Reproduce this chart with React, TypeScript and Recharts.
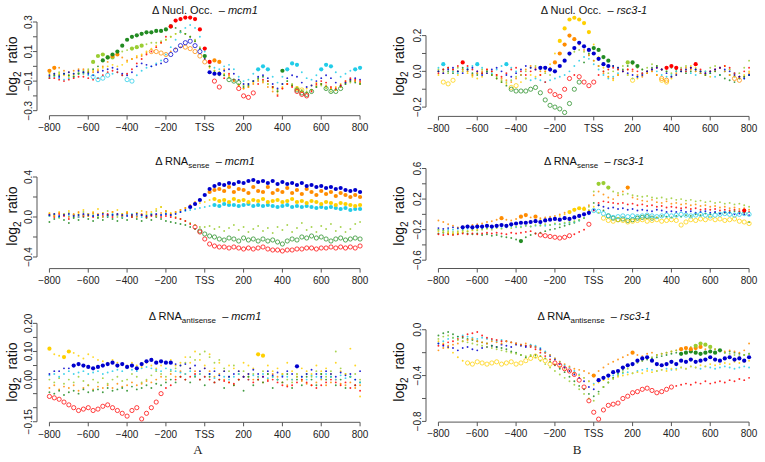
import React from 'react';
import { ScatterChart, Scatter, XAxis, YAxis, ReferenceLine } from 'recharts';

// ---------- shared categories ----------
const positions = [-800,-775,-750,-725,-700,-675,-650,-625,-600,-575,-550,-525,-500,-475,-450,-425,-400,-375,-350,-325,-300,-275,-250,-225,-200,-175,-150,-125,-100,-75,-50,-25,0,25,50,75,100,125,150,175,200,225,250,275,300,325,350,375,400,425,450,475,500,525,550,575,600,625,650,675,700,725,750,775,800];
const xTicks = [-800,-600,-400,-200,0,200,400,600,800];
const xTickLabels = ['\u2212800','\u2212600','\u2212400','\u2212200','TSS','200','400','600','800'];

// ---------- Δ Nucl. Occ. – mcm1 ----------
const nuclMcm1YTicks = [-0.3,-0.2,-0.1,0,0.1,0.2,0.3];
const nuclMcm1YLabels = ['\u22120.3','','\u22120.1','','0.1','','0.3'];
const nuclMcm1Red = [-0.08,-0.08,-0.09,-0.10,-0.09,-0.08,-0.07,-0.07,-0.08,-0.09,-0.08,-0.06,-0.04,-0.03,-0.04,-0.06,-0.05,-0.02,0.02,0.05,0.08,0.10,0.13,0.16,0.20,0.27,0.31,0.32,0.33,0.33,0.32,0.25,0.12,0.03,-0.10,-0.14,-0.08,-0.05,-0.09,-0.15,-0.20,-0.21,-0.18,-0.12,-0.09,-0.10,-0.14,-0.20,-0.15,-0.12,-0.14,-0.17,-0.19,-0.20,-0.17,-0.12,-0.10,-0.11,-0.14,-0.15,-0.13,-0.10,-0.08,-0.09,-0.10];
const nuclMcm1Orange = [-0.03,-0.01,-0.01,-0.03,-0.04,-0.03,-0.02,-0.02,-0.03,-0.04,-0.03,0.00,0.03,0.07,0.08,0.06,0.04,0.05,0.06,0.07,0.09,0.10,0.10,0.09,0.08,0.10,0.12,0.13,0.13,0.12,0.10,0.07,0.03,0.00,0.04,0.03,-0.02,-0.06,-0.10,-0.13,-0.15,-0.14,-0.12,-0.10,-0.11,-0.14,-0.17,-0.19,-0.15,-0.12,-0.13,-0.15,-0.17,-0.18,-0.16,-0.13,-0.12,-0.13,-0.15,-0.16,-0.14,-0.11,-0.10,-0.10,-0.11];
const nuclMcm1Yellow = [-0.05,-0.06,-0.05,-0.06,-0.07,-0.06,-0.05,-0.05,-0.04,-0.03,-0.02,-0.01,0.00,0.01,0.00,0.01,0.03,0.05,0.07,0.08,0.10,0.12,0.14,0.16,0.18,0.20,0.22,0.23,0.22,0.20,0.17,0.12,0.05,-0.01,-0.03,-0.04,-0.05,-0.07,-0.10,-0.13,-0.15,-0.14,-0.11,-0.09,-0.10,-0.12,-0.15,-0.17,-0.14,-0.12,-0.13,-0.15,-0.16,-0.15,-0.13,-0.11,-0.12,-0.14,-0.15,-0.14,-0.12,-0.10,-0.09,-0.10,-0.12];
const nuclMcm1LightGreen = [-0.04,-0.05,-0.04,-0.05,-0.06,-0.05,-0.04,-0.03,-0.02,0.03,0.07,0.08,0.06,0.06,0.08,0.10,0.11,0.12,0.13,0.14,0.15,0.16,0.16,0.17,0.18,0.20,0.22,0.23,0.22,0.20,0.18,0.13,0.06,0.00,-0.03,-0.04,-0.06,-0.08,-0.10,-0.12,-0.13,-0.12,-0.10,-0.09,-0.10,-0.12,-0.14,-0.16,-0.12,-0.10,-0.12,-0.14,-0.16,-0.17,-0.16,-0.14,-0.13,-0.15,-0.17,-0.16,-0.14,-0.12,-0.11,-0.10,-0.11];
const nuclMcm1DarkGreen = [-0.07,-0.06,-0.06,-0.05,-0.06,-0.07,-0.05,-0.04,-0.04,-0.02,0.00,0.04,0.06,0.08,0.10,0.14,0.18,0.20,0.21,0.22,0.23,0.23,0.24,0.24,0.25,0.27,0.26,0.24,0.22,0.20,0.17,0.12,0.07,0.00,-0.04,-0.06,-0.06,-0.09,-0.10,-0.11,-0.14,-0.13,-0.10,-0.08,-0.07,-0.10,-0.14,-0.17,-0.03,-0.10,-0.13,-0.16,-0.18,-0.19,-0.17,-0.14,-0.12,-0.15,-0.17,-0.17,-0.15,-0.12,-0.10,-0.11,-0.12];
const nuclMcm1Cyan = [-0.08,-0.07,-0.08,-0.09,-0.08,-0.07,-0.05,-0.05,-0.06,-0.07,-0.09,-0.08,-0.06,-0.05,-0.04,-0.06,-0.09,-0.10,-0.06,-0.03,-0.01,0.00,0.02,0.04,0.08,0.13,0.18,0.23,0.26,0.28,0.26,0.20,0.10,0.02,-0.01,-0.02,0.00,0.01,-0.02,-0.07,-0.10,-0.09,-0.05,-0.02,0.00,-0.02,-0.07,-0.11,-0.07,-0.02,0.02,0.01,-0.04,-0.08,-0.09,-0.06,-0.02,0.01,0.00,-0.04,-0.07,-0.05,-0.03,-0.02,-0.01];
const nuclMcm1Blue = [-0.06,-0.05,-0.07,-0.05,-0.04,-0.05,-0.03,-0.04,-0.05,-0.06,-0.04,-0.03,-0.02,-0.01,-0.02,-0.05,-0.06,-0.04,0.00,0.02,0.01,0.00,0.01,0.02,0.04,0.08,0.11,0.14,0.16,0.17,0.14,0.10,0.05,-0.04,-0.05,-0.05,-0.03,-0.02,-0.05,-0.09,-0.12,-0.12,-0.10,-0.07,-0.06,-0.08,-0.12,-0.15,-0.12,-0.08,-0.06,-0.07,-0.11,-0.14,-0.13,-0.10,-0.08,-0.06,-0.08,-0.11,-0.13,-0.11,-0.09,-0.08,-0.09];

// ---------- Δ Nucl. Occ. – rsc3-1 ----------
const nuclRscYTicks = [-0.2,-0.1,0,0.1,0.2];
const nuclRscYLabels = ['\u22120.2','','0.0','','0.2'];
const nuclRscRed = [-0.01,0.01,0.02,0.01,0.03,0.05,0.03,0.01,0.00,-0.01,0.01,0.00,-0.02,-0.03,-0.01,0.01,0.02,0.00,-0.02,0.00,0.01,-0.02,-0.06,-0.11,-0.13,-0.14,-0.10,-0.04,-0.02,-0.03,-0.06,-0.08,-0.06,-0.02,0.00,0.01,0.02,0.01,0.00,0.01,0.01,0.00,-0.01,0.00,0.01,0.02,0.01,0.02,0.03,0.02,0.01,0.00,0.02,0.04,0.01,-0.01,0.00,0.01,0.02,0.03,0.02,-0.01,-0.03,0.00,0.02];
const nuclRscYellow = [-0.02,-0.06,-0.07,-0.05,-0.02,0.00,-0.01,-0.03,-0.04,-0.03,-0.01,-0.02,-0.04,-0.06,-0.07,-0.09,-0.08,-0.06,-0.04,-0.02,-0.03,-0.02,0.00,0.04,0.10,0.17,0.24,0.29,0.30,0.29,0.27,0.22,0.15,0.08,0.02,-0.03,-0.05,-0.02,0.00,-0.02,-0.05,-0.04,-0.02,-0.01,0.00,-0.02,-0.05,-0.06,-0.04,-0.02,0.00,0.01,0.03,0.02,0.00,-0.02,-0.03,0.00,0.02,0.03,0.01,-0.02,-0.03,-0.02,0.00];
const nuclRscOrange = [0.00,-0.01,0.02,0.01,0.00,0.01,0.00,-0.02,-0.01,0.00,0.01,0.00,-0.02,-0.04,-0.05,-0.06,-0.04,-0.02,0.01,0.03,0.02,0.00,0.00,0.02,0.05,0.10,0.15,0.20,0.18,0.15,0.12,0.09,0.06,0.03,-0.01,-0.03,-0.04,-0.02,0.00,0.01,0.00,-0.02,-0.03,-0.01,0.00,-0.02,-0.04,-0.05,-0.03,-0.01,0.00,0.02,0.01,0.00,-0.01,-0.02,0.00,0.01,0.02,0.00,-0.02,-0.04,-0.05,-0.03,-0.01];
const nuclRscLightGreen = [0.01,0.00,-0.01,0.00,0.02,0.01,0.00,-0.02,-0.01,0.01,0.00,-0.02,-0.03,-0.05,-0.06,-0.05,-0.03,-0.02,0.00,0.02,0.03,0.01,-0.01,-0.02,0.00,0.03,0.06,0.09,0.11,0.12,0.11,0.09,0.06,0.03,0.00,-0.01,0.00,0.01,0.03,0.05,0.04,0.02,0.01,0.02,0.04,0.03,0.01,0.00,-0.01,0.00,0.02,0.03,0.02,0.00,-0.01,0.00,0.02,0.03,0.02,0.00,-0.02,-0.03,-0.01,0.02,0.06];
const nuclRscDarkGreen = [0.00,0.01,0.00,-0.01,0.00,0.02,0.01,-0.01,-0.02,-0.01,0.00,-0.02,-0.04,-0.06,-0.08,-0.10,-0.11,-0.11,-0.11,-0.10,-0.09,-0.12,-0.16,-0.19,-0.20,-0.21,-0.23,-0.18,-0.10,-0.06,0.05,0.10,0.13,0.12,0.08,0.06,0.03,0.02,0.01,0.03,0.05,0.03,0.01,0.00,0.02,0.03,0.01,0.00,0.02,0.01,0.00,-0.01,0.00,0.01,0.00,-0.02,-0.01,0.00,-0.02,-0.04,-0.05,-0.06,-0.04,-0.03,-0.02];
const nuclRscCyan = [0.02,0.04,0.02,0.00,-0.01,0.00,0.02,0.03,0.04,0.02,0.00,-0.01,0.01,0.03,0.04,0.02,0.00,-0.02,-0.04,-0.05,-0.04,-0.05,-0.06,-0.05,-0.04,-0.03,-0.02,0.00,0.03,0.06,0.08,0.07,0.04,0.01,-0.02,-0.04,-0.03,-0.01,0.00,-0.02,-0.04,-0.03,-0.01,0.00,0.01,0.00,-0.02,-0.03,-0.02,0.00,0.01,0.00,-0.01,-0.02,-0.01,0.00,-0.01,-0.03,-0.02,0.00,0.01,-0.01,-0.03,-0.04,-0.02];
const nuclRscBlue = [0.00,-0.01,0.01,0.02,0.00,-0.01,0.01,0.02,0.00,-0.02,-0.01,0.01,0.02,0.00,-0.02,-0.03,-0.01,0.01,0.03,0.02,0.01,0.02,0.02,0.01,0.00,0.03,0.06,0.10,0.13,0.16,0.14,0.12,0.10,0.07,0.04,0.03,0.03,0.02,0.00,-0.01,-0.02,-0.03,-0.02,0.00,0.01,0.02,0.01,-0.01,-0.03,-0.02,0.00,0.01,0.02,0.01,0.00,-0.01,0.00,0.01,0.02,0.01,0.00,-0.02,-0.03,-0.04,-0.02];

// ---------- Δ RNA sense – mcm1 ----------
const senseMcm1YTicks = [-0.4,-0.2,0,0.2,0.4];
const senseMcm1YLabels = ['\u22120.4','','0.0','','0.4'];
const senseMcm1Red = [0.02,0.00,0.03,0.01,-0.02,0.02,0.00,0.01,0.03,0.00,0.02,0.01,0.03,0.00,0.02,0.01,0.03,0.00,0.01,0.02,0.00,0.01,0.02,0.00,0.01,0.00,-0.01,-0.02,-0.04,-0.07,-0.10,-0.15,-0.22,-0.27,-0.29,-0.30,-0.30,-0.31,-0.30,-0.31,-0.32,-0.31,-0.32,-0.31,-0.30,-0.32,-0.33,-0.33,-0.34,-0.33,-0.33,-0.32,-0.32,-0.31,-0.31,-0.32,-0.31,-0.31,-0.30,-0.31,-0.30,-0.31,-0.30,-0.31,-0.29];
const senseMcm1Orange = [0.03,0.01,0.04,0.02,0.00,0.03,0.05,0.02,0.01,0.04,0.03,0.00,0.02,0.05,0.03,0.01,0.04,0.02,0.00,0.03,0.05,0.02,0.01,0.04,0.06,0.03,0.05,0.07,0.09,0.12,0.15,0.18,0.22,0.25,0.27,0.28,0.26,0.30,0.25,0.28,0.27,0.24,0.30,0.26,0.25,0.30,0.24,0.27,0.25,0.29,0.24,0.27,0.23,0.28,0.25,0.22,0.26,0.23,0.25,0.21,0.24,0.22,0.20,0.22,0.20];
const senseMcm1Yellow = [0.04,0.02,0.05,0.03,0.06,0.02,0.04,0.07,0.03,0.05,0.08,0.04,0.02,0.05,0.07,0.03,0.05,0.02,0.04,0.06,0.03,0.05,0.08,0.10,0.06,0.04,0.05,0.07,0.09,0.10,0.12,0.14,0.15,0.17,0.18,0.16,0.17,0.15,0.18,0.16,0.17,0.15,0.17,0.16,0.18,0.15,0.16,0.17,0.15,0.16,0.18,0.15,0.16,0.14,0.16,0.15,0.13,0.15,0.14,0.12,0.14,0.13,0.12,0.11,0.12];
const senseMcm1LightGreen = [0.01,0.03,-0.01,0.02,0.04,0.00,0.02,0.05,0.01,0.03,0.00,0.04,0.06,0.02,0.00,0.03,0.05,0.01,0.04,0.02,0.00,0.03,0.06,0.10,0.05,0.02,0.00,-0.02,-0.04,-0.06,-0.08,-0.10,-0.10,-0.09,-0.12,-0.10,-0.14,-0.11,-0.08,-0.13,-0.10,-0.15,-0.12,-0.09,-0.14,-0.11,-0.16,-0.10,-0.13,-0.08,-0.15,-0.11,-0.06,-0.13,-0.10,-0.15,-0.09,-0.12,-0.07,-0.14,-0.10,-0.15,-0.12,-0.07,-0.05];
const senseMcm1DarkGreen = [-0.05,-0.02,0.00,-0.03,-0.06,-0.01,-0.03,0.00,-0.02,-0.04,-0.01,-0.03,0.00,-0.02,-0.04,-0.01,-0.03,0.00,-0.02,-0.04,-0.01,-0.03,0.00,-0.02,-0.04,-0.05,-0.06,-0.07,-0.08,-0.10,-0.12,-0.14,-0.17,-0.19,-0.20,-0.22,-0.23,-0.21,-0.22,-0.24,-0.21,-0.23,-0.22,-0.24,-0.22,-0.24,-0.23,-0.25,-0.27,-0.24,-0.22,-0.23,-0.20,-0.21,-0.19,-0.21,-0.20,-0.22,-0.24,-0.22,-0.21,-0.23,-0.22,-0.21,-0.22];
const senseMcm1Cyan = [0.01,0.02,0.00,0.03,0.01,0.02,0.00,0.02,0.03,0.01,0.02,0.00,0.01,0.03,0.02,0.00,0.02,0.03,0.01,0.00,0.02,0.03,0.01,0.02,0.03,0.02,0.04,0.05,0.06,0.07,0.08,0.09,0.10,0.11,0.12,0.11,0.13,0.12,0.12,0.11,0.12,0.13,0.11,0.12,0.11,0.12,0.11,0.10,0.11,0.12,0.10,0.11,0.10,0.11,0.10,0.09,0.10,0.09,0.10,0.09,0.08,0.09,0.07,0.08,0.08];
const senseMcm1Blue = [0.02,0.03,0.01,0.02,0.03,0.01,0.02,0.03,0.02,0.01,0.02,0.03,0.02,0.02,0.03,0.02,0.01,0.02,0.03,0.02,0.01,0.02,0.03,0.02,0.03,0.02,0.03,0.05,0.07,0.10,0.13,0.17,0.22,0.28,0.31,0.33,0.32,0.34,0.33,0.35,0.34,0.36,0.37,0.35,0.36,0.34,0.36,0.33,0.35,0.33,0.34,0.32,0.34,0.31,0.32,0.30,0.31,0.29,0.30,0.28,0.29,0.27,0.26,0.27,0.25];

// ---------- Δ RNA sense – rsc3-1 ----------
const senseRscYTicks = [-0.6,-0.4,-0.2,0,0.2,0.4,0.6];
const senseRscYLabels = ['\u22120.6','','\u22120.2','','0.2','','0.6'];
const senseRscRed = [-0.26,-0.27,-0.26,-0.27,-0.26,-0.25,-0.26,-0.25,-0.26,-0.25,-0.24,-0.25,-0.24,-0.25,-0.26,-0.24,-0.25,-0.24,-0.23,-0.22,-0.25,-0.27,-0.28,-0.29,-0.30,-0.31,-0.30,-0.28,-0.26,-0.23,-0.20,-0.13,0.05,0.15,0.17,0.16,0.15,0.14,0.15,0.13,0.14,0.12,0.13,0.11,0.12,0.10,0.11,0.09,0.10,0.09,0.08,0.09,0.07,0.08,0.06,0.07,0.06,0.07,0.05,0.06,0.05,0.06,0.04,0.05,0.03];
const senseRscOrange = [-0.08,-0.10,-0.13,-0.15,-0.17,-0.16,-0.15,-0.14,-0.13,-0.12,-0.10,-0.09,-0.07,-0.05,-0.07,-0.08,-0.06,-0.03,-0.01,-0.04,-0.03,-0.05,-0.04,-0.03,-0.02,0.00,0.02,0.03,0.05,0.07,0.09,0.12,0.25,0.30,0.26,0.22,0.20,0.25,0.30,0.35,0.22,0.20,0.18,0.17,0.19,0.16,0.15,0.17,0.14,0.15,0.13,0.14,0.12,0.13,0.11,0.12,0.10,0.11,0.09,0.10,0.08,0.09,0.07,0.08,0.06];
const senseRscYellow = [-0.22,-0.23,-0.24,-0.25,-0.24,-0.23,-0.22,-0.21,-0.20,-0.19,-0.18,-0.17,-0.16,-0.15,-0.14,-0.13,-0.12,-0.11,-0.10,-0.09,-0.08,-0.07,-0.06,-0.05,-0.04,-0.02,0.00,0.03,0.06,0.08,0.07,0.05,0.10,0.02,-0.05,-0.08,-0.09,-0.07,-0.08,-0.10,-0.09,-0.08,-0.07,-0.09,-0.08,-0.07,-0.09,-0.08,-0.07,-0.08,-0.14,-0.10,-0.07,-0.08,-0.06,-0.07,-0.05,-0.07,-0.06,-0.08,-0.07,-0.06,-0.09,-0.10,-0.12];
const senseRscLightGreen = [-0.20,-0.21,-0.22,-0.23,-0.22,-0.21,-0.22,-0.20,-0.21,-0.20,-0.19,-0.20,-0.18,-0.19,-0.17,-0.18,-0.16,-0.17,-0.15,-0.16,-0.14,-0.15,-0.13,-0.14,-0.12,-0.13,-0.11,-0.10,-0.09,-0.07,-0.05,0.10,0.30,0.40,0.41,0.35,0.30,0.28,0.26,0.27,0.25,0.24,0.23,0.24,0.22,0.21,0.22,0.20,0.21,0.19,0.20,0.18,0.19,0.17,0.18,0.16,0.17,0.15,0.16,0.14,0.15,0.13,0.14,0.12,0.10];
const senseRscDarkGreen = [-0.25,-0.24,-0.25,-0.26,-0.25,-0.24,-0.25,-0.26,-0.25,-0.27,-0.26,-0.28,-0.27,-0.29,-0.30,-0.31,-0.33,-0.35,-0.30,-0.27,-0.25,-0.24,-0.22,-0.20,-0.19,-0.17,-0.15,-0.13,-0.11,-0.08,-0.05,0.05,0.15,0.12,0.05,-0.02,-0.05,-0.07,-0.06,-0.08,-0.07,-0.05,-0.04,-0.03,-0.05,-0.04,-0.02,-0.03,-0.04,-0.02,-0.03,-0.01,-0.02,0.00,-0.01,0.01,0.00,0.02,0.01,0.02,0.03,0.04,0.03,0.02,-0.10];
const senseRscCyan = [-0.20,-0.21,-0.20,-0.20,-0.19,-0.20,-0.19,-0.19,-0.18,-0.19,-0.18,-0.18,-0.17,-0.18,-0.17,-0.16,-0.17,-0.16,-0.15,-0.16,-0.15,-0.14,-0.15,-0.14,-0.13,-0.13,-0.12,-0.11,-0.10,-0.08,-0.05,0.00,0.05,0.04,0.01,-0.02,-0.04,-0.03,-0.02,-0.03,-0.02,-0.03,-0.02,-0.01,-0.02,-0.03,-0.02,-0.01,-0.02,-0.01,0.00,-0.01,-0.02,-0.01,0.00,-0.01,-0.02,-0.01,0.00,0.01,0.00,-0.01,0.00,0.01,0.00];
const senseRscBlue = [-0.18,-0.19,-0.18,-0.17,-0.18,-0.17,-0.16,-0.17,-0.16,-0.16,-0.15,-0.16,-0.15,-0.14,-0.15,-0.13,-0.12,-0.11,-0.11,-0.10,-0.09,-0.10,-0.08,-0.07,-0.06,-0.07,-0.05,-0.06,-0.04,-0.02,0.00,0.02,0.06,0.12,0.10,0.08,0.09,0.07,0.08,0.06,0.07,0.05,0.06,0.05,0.04,0.06,0.05,0.03,0.04,0.03,0.05,0.03,0.04,0.02,0.03,0.04,0.02,0.03,0.01,0.03,0.02,0.00,0.01,0.00,-0.01];

// ---------- Δ RNA antisense – mcm1 ----------
const antiMcm1YTicks = [-0.15,-0.1,-0.05,0,0.05,0.1,0.15,0.2];
const antiMcm1YLabels = ['\u22120.15','','','0.00','','0.10','','0.20'];
const antiMcm1Red = [-0.060,-0.065,-0.070,-0.080,-0.090,-0.100,-0.110,-0.105,-0.100,-0.110,-0.105,-0.095,-0.090,-0.100,-0.110,-0.120,-0.130,-0.110,-0.100,-0.140,-0.120,-0.100,-0.080,-0.050,-0.030,-0.020,0.000,0.010,0.000,0.010,0.020,0.000,0.010,0.000,-0.010,0.000,-0.005,-0.010,-0.015,0.000,0.010,0.000,-0.010,0.000,0.010,-0.005,0.000,-0.010,-0.020,-0.025,-0.020,-0.010,0.000,-0.010,-0.020,-0.030,-0.020,-0.010,0.000,-0.010,-0.020,-0.010,-0.030,-0.020,-0.040];
const antiMcm1Yellow = [0.110,0.090,0.085,0.080,0.100,0.095,0.085,0.075,0.090,0.080,0.070,0.065,0.060,0.070,0.060,0.055,0.050,0.060,0.050,0.045,0.060,0.050,0.040,0.050,0.060,0.070,0.050,0.060,0.080,0.060,0.100,0.070,0.050,0.090,0.040,0.060,0.030,0.050,0.040,0.030,0.060,0.050,0.040,0.090,0.085,0.050,0.030,0.040,0.020,0.060,0.030,0.020,0.040,0.030,0.020,0.050,0.030,0.040,0.020,0.060,0.030,0.020,0.110,0.050,-0.060];
const antiMcm1Orange = [-0.030,-0.020,-0.035,-0.025,-0.030,-0.020,-0.040,-0.030,-0.020,-0.035,-0.025,-0.030,-0.020,-0.030,-0.015,-0.025,-0.020,-0.010,-0.020,-0.015,-0.005,-0.010,0.000,0.010,0.000,0.020,0.010,0.030,0.020,0.040,0.030,0.020,0.040,0.030,0.010,0.020,0.000,-0.010,-0.020,0.000,0.010,0.020,0.000,0.010,-0.010,0.000,0.020,0.010,-0.010,-0.020,0.000,0.010,-0.005,-0.015,-0.020,-0.010,0.000,-0.020,-0.010,0.000,-0.015,-0.020,-0.010,-0.030,-0.020];
const antiMcm1LightGreen = [0.000,-0.010,0.005,-0.015,0.000,-0.010,0.010,-0.005,-0.020,0.000,-0.010,0.005,-0.015,0.000,0.010,-0.005,0.000,0.020,0.010,-0.010,0.000,0.015,0.030,0.020,0.010,0.030,0.040,0.050,0.060,0.080,0.070,0.090,0.100,0.080,0.060,0.070,0.040,0.030,0.050,0.020,0.030,0.010,0.020,0.000,0.030,0.020,0.010,0.000,0.020,0.000,-0.010,0.010,0.000,0.020,0.010,0.030,0.020,0.010,0.030,0.100,0.040,0.020,0.010,0.020,0.000];
const antiMcm1DarkGreen = [-0.045,-0.050,-0.040,-0.055,-0.045,-0.040,-0.050,-0.035,-0.045,-0.040,-0.035,-0.045,-0.030,-0.040,-0.035,-0.030,-0.040,-0.025,-0.035,-0.030,-0.020,-0.030,-0.015,-0.020,-0.010,0.000,-0.010,0.010,0.000,-0.010,0.010,0.000,-0.020,0.010,-0.010,0.000,-0.030,0.010,-0.020,0.000,-0.040,0.010,-0.020,0.000,-0.010,0.020,-0.030,0.000,-0.010,0.020,-0.030,0.000,-0.020,0.010,0.000,-0.020,0.020,0.000,0.010,-0.020,0.000,-0.030,0.010,-0.020,-0.010];
const antiMcm1Cyan = [0.015,0.020,0.010,0.020,0.030,0.020,0.025,0.030,0.020,0.025,0.030,0.020,0.025,0.030,0.035,0.030,0.040,0.035,0.030,0.040,0.045,0.040,0.035,0.030,0.040,0.035,0.030,0.025,0.020,0.030,0.015,0.020,0.010,0.020,0.005,0.015,0.010,0.000,0.010,0.020,0.010,0.000,0.015,0.010,0.020,0.005,0.010,0.000,0.015,0.010,0.000,0.020,0.010,0.000,0.015,0.010,0.005,0.020,0.010,0.000,0.015,0.005,0.010,0.000,-0.010];
const antiMcm1Blue = [0.020,0.030,0.030,0.040,0.040,0.050,0.055,0.050,0.045,0.040,0.045,0.050,0.055,0.060,0.050,0.055,0.045,0.050,0.040,0.055,0.065,0.070,0.060,0.065,0.060,0.060,0.055,0.050,0.055,0.040,0.050,0.030,0.040,0.020,0.030,0.015,0.030,0.010,0.020,0.030,0.010,0.020,0.035,0.020,0.010,0.030,0.015,0.025,0.010,0.030,0.020,0.047,0.010,0.020,0.035,0.020,0.010,0.030,0.020,0.010,0.025,0.015,0.020,0.000,0.030];

// ---------- Δ RNA antisense – rsc3-1 ----------
const antiRscYTicks = [-0.8,-0.6,-0.4,-0.2,0];
const antiRscYLabels = ['\u22120.8','','\u22120.4','','0.0'];
const antiRscRed = [-0.14,-0.13,-0.11,-0.10,-0.08,-0.06,-0.04,-0.03,-0.02,-0.05,-0.07,-0.08,-0.09,-0.10,-0.10,-0.11,-0.12,-0.13,-0.14,-0.15,-0.17,-0.20,-0.23,-0.26,-0.29,-0.31,-0.34,-0.36,-0.39,-0.44,-0.50,-0.62,-0.72,-0.78,-0.70,-0.66,-0.65,-0.64,-0.60,-0.58,-0.55,-0.54,-0.52,-0.51,-0.53,-0.55,-0.54,-0.52,-0.50,-0.49,-0.48,-0.47,-0.48,-0.46,-0.47,-0.45,-0.47,-0.46,-0.45,-0.46,-0.44,-0.45,-0.43,-0.44,-0.42];
const antiRscOrange = [-0.18,-0.16,-0.14,-0.13,-0.12,-0.10,-0.09,-0.08,-0.10,-0.11,-0.12,-0.10,-0.11,-0.12,-0.10,-0.11,-0.12,-0.13,-0.12,-0.14,-0.15,-0.18,-0.20,-0.22,-0.25,-0.28,-0.30,-0.32,-0.34,-0.35,-0.36,-0.38,-0.40,-0.36,-0.33,-0.30,-0.28,-0.26,-0.24,-0.22,-0.20,-0.22,-0.23,-0.21,-0.20,-0.22,-0.21,-0.20,-0.19,-0.18,-0.17,-0.16,-0.17,-0.16,-0.15,-0.17,-0.18,-0.17,-0.18,-0.19,-0.18,-0.19,-0.20,-0.18,-0.12];
const antiRscYellow = [-0.10,-0.12,-0.16,-0.20,-0.24,-0.27,-0.29,-0.30,-0.28,-0.29,-0.30,-0.29,-0.28,-0.30,-0.29,-0.28,-0.30,-0.29,-0.27,-0.25,-0.23,-0.25,-0.27,-0.30,-0.30,-0.32,-0.34,-0.36,-0.38,-0.40,-0.42,-0.45,-0.48,-0.46,-0.44,-0.43,-0.42,-0.41,-0.40,-0.39,-0.38,-0.37,-0.38,-0.36,-0.37,-0.36,-0.35,-0.36,-0.34,-0.35,-0.33,-0.34,-0.32,-0.33,-0.31,-0.32,-0.30,-0.31,-0.30,-0.29,-0.30,-0.28,-0.29,-0.28,-0.27];
const antiRscLightGreen = [-0.08,-0.06,-0.05,-0.07,-0.09,-0.10,-0.11,-0.12,-0.13,-0.14,-0.15,-0.16,-0.17,-0.18,-0.19,-0.20,-0.21,-0.22,-0.23,-0.22,-0.24,-0.27,-0.30,-0.33,-0.36,-0.39,-0.42,-0.45,-0.48,-0.52,-0.56,-0.60,-0.62,-0.56,-0.50,-0.46,-0.43,-0.40,-0.37,-0.34,-0.31,-0.29,-0.27,-0.25,-0.24,-0.22,-0.21,-0.20,-0.19,-0.18,-0.17,-0.16,-0.15,-0.14,-0.12,-0.13,-0.15,-0.17,-0.18,-0.20,-0.21,-0.22,-0.23,-0.22,-0.21];
const antiRscDarkGreen = [-0.05,-0.03,-0.02,-0.04,-0.06,-0.07,-0.08,-0.09,-0.10,-0.11,-0.12,-0.14,-0.15,-0.16,-0.17,-0.19,-0.20,-0.22,-0.24,-0.23,-0.22,-0.23,-0.25,-0.28,-0.31,-0.34,-0.37,-0.41,-0.45,-0.49,-0.52,-0.56,-0.58,-0.54,-0.50,-0.46,-0.42,-0.38,-0.35,-0.32,-0.30,-0.28,-0.27,-0.26,-0.25,-0.24,-0.23,-0.22,-0.21,-0.20,-0.21,-0.20,-0.19,-0.20,-0.21,-0.20,-0.19,-0.20,-0.18,-0.20,-0.19,-0.20,-0.21,-0.22,-0.21];
const antiRscCyan = [-0.12,-0.10,-0.08,-0.07,-0.06,-0.05,-0.06,-0.07,-0.08,-0.07,-0.08,-0.09,-0.10,-0.09,-0.10,-0.11,-0.12,-0.13,-0.14,-0.13,-0.14,-0.16,-0.19,-0.22,-0.25,-0.28,-0.31,-0.33,-0.36,-0.39,-0.42,-0.45,-0.47,-0.44,-0.42,-0.41,-0.40,-0.39,-0.38,-0.37,-0.38,-0.36,-0.35,-0.34,-0.35,-0.36,-0.35,-0.34,-0.35,-0.34,-0.33,-0.34,-0.32,-0.33,-0.34,-0.32,-0.33,-0.34,-0.33,-0.32,-0.33,-0.34,-0.33,-0.32,-0.33];
const antiRscBlue = [-0.12,-0.14,-0.15,-0.16,-0.18,-0.16,-0.15,-0.17,-0.18,-0.16,-0.15,-0.14,-0.15,-0.13,-0.14,-0.15,-0.13,-0.14,-0.15,-0.14,-0.15,-0.17,-0.20,-0.23,-0.26,-0.30,-0.33,-0.36,-0.39,-0.42,-0.45,-0.50,-0.52,-0.44,-0.42,-0.40,-0.37,-0.36,-0.33,-0.31,-0.30,-0.27,-0.25,-0.24,-0.27,-0.30,-0.31,-0.30,-0.28,-0.30,-0.27,-0.28,-0.26,-0.28,-0.27,-0.26,-0.24,-0.26,-0.27,-0.25,-0.24,-0.26,-0.25,-0.27,-0.24];

// ---------- styling / layout ----------
const FONT = "'Liberation Sans', Arial, Helvetica, sans-serif";
const C = {
  red: '#FF0000', orange: '#FF8C00', yellow: '#FFD000', lightGreen: '#9ACD32',
  darkGreen: '#228B22', cyan: '#22CCE8', blue: '#0000CD',
};
type Seg = [number, number];
interface SeriesDef { color: string; values: number[]; filled?: Seg[]; open?: Seg[] }
interface PanelDef {
  pl: number; pt: number; pw: number; ph: number; domain: [number, number];
  yTicks: number[]; yLabels: string[]; series: SeriesDef[];
}

const panels: PanelDef[] = [
  { pl: 37, pt: 13.3, pw: 335.5, ph: 102.7, domain: [-0.334, 0.361], yTicks: nuclMcm1YTicks, yLabels: nuclMcm1YLabels,
    series: [
      { color: C.yellow, values: nuclMcm1Yellow, open: [[475, 500]] },
      { color: C.lightGreen, values: nuclMcm1LightGreen, filled: [[-575, -475], [-375, -325]] },
      { color: C.orange, values: nuclMcm1Orange, filled: [[-800, -775], [-475, -450], [50, 75]], open: [[-275, -200], [-100, 0]] },
      { color: C.cyan, values: nuclMcm1Cyan, filled: [[275, 325], [425, 475], [600, 650], [775, 800]], open: [[-575, -500], [-400, -375]] },
      { color: C.darkGreen, values: nuclMcm1DarkGreen, filled: [[-525, -175], [0, 0], [400, 400]], open: [[125, 175], [475, 550], [625, 700]] },
      { color: C.blue, values: nuclMcm1Blue, filled: [[25, 75]], open: [[-200, -25]] },
      { color: C.red, values: nuclMcm1Red, filled: [[-175, 25]], open: [[50, 75], [175, 250], [475, 525]] },
    ] },
  { pl: 426, pt: 12.6, pw: 335.5, ph: 103.4, domain: [-0.252, 0.3265], yTicks: nuclRscYTicks, yLabels: nuclRscYLabels,
    series: [
      { color: C.lightGreen, values: nuclRscLightGreen, filled: [[175, 175]] },
      { color: C.cyan, values: nuclRscCyan, filled: [[-775, -775], [-600, -600], [-450, -450]] },
      { color: C.yellow, values: nuclRscYellow, filled: [[-175, -25]], open: [[-775, -725], [-425, -400], [200, 200], [350, 375]] },
      { color: C.orange, values: nuclRscOrange, filled: [[-200, -100]], open: [[350, 375], [725, 750]] },
      { color: C.darkGreen, values: nuclRscDarkGreen, filled: [[0, 75], [200, 225]], open: [[-425, -75]] },
      { color: C.red, values: nuclRscRed, filled: [[-675, -675], [375, 425], [525, 525]], open: [[-225, -125], [-75, 0]] },
      { color: C.blue, values: nuclRscBlue, filled: [[-275, 75]] },
    ] },
  { pl: 37, pt: 165.7, pw: 335.5, ph: 102.6, domain: [-0.516, 0.51], yTicks: senseMcm1YTicks, yLabels: senseMcm1YLabels,
    series: [
      { color: C.lightGreen, values: senseMcm1LightGreen },
      { color: C.darkGreen, values: senseMcm1DarkGreen, open: [[-25, 800]] },
      { color: C.red, values: senseMcm1Red, open: [[-50, 800]] },
      { color: C.cyan, values: senseMcm1Cyan, filled: [[50, 800]] },
      { color: C.yellow, values: senseMcm1Yellow, filled: [[50, 800]] },
      { color: C.orange, values: senseMcm1Orange, filled: [[25, 800]] },
      { color: C.blue, values: senseMcm1Blue, filled: [[-75, 800]] },
    ] },
  { pl: 426, pt: 166.8, pw: 335.5, ph: 101.5, domain: [-0.709, 0.62], yTicks: senseRscYTicks, yLabels: senseRscYLabels,
    series: [
      { color: C.darkGreen, values: senseRscDarkGreen, filled: [[-375, -375]], open: [[75, 300]] },
      { color: C.red, values: senseRscRed, filled: [[775, 775]], open: [[-275, -125], [-25, -25]] },
      { color: C.yellow, values: senseRscYellow, filled: [[-125, -50]], open: [[50, 800]] },
      { color: C.cyan, values: senseRscCyan, open: [[0, 800]] },
      { color: C.orange, values: senseRscOrange, filled: [[-475, -475], [-375, -350], [-300, -300], [175, 175]] },
      { color: C.lightGreen, values: senseRscLightGreen, filled: [[25, 75]] },
      { color: C.blue, values: senseRscBlue, filled: [[-675, -25]] },
    ] },
  { pl: 37, pt: 319.9, pw: 335.5, ph: 102.3, domain: [-0.152, 0.212], yTicks: antiMcm1YTicks, yLabels: antiMcm1YLabels,
    series: [
      { color: C.orange, values: antiMcm1Orange },
      { color: C.lightGreen, values: antiMcm1LightGreen },
      { color: C.darkGreen, values: antiMcm1DarkGreen },
      { color: C.cyan, values: antiMcm1Cyan },
      { color: C.yellow, values: antiMcm1Yellow, filled: [[-800, -800], [-725, -700], [275, 300]] },
      { color: C.red, values: antiMcm1Red, open: [[-800, -225]] },
      { color: C.blue, values: antiMcm1Blue, filled: [[-675, -175], [475, 475]] },
    ] },
  { pl: 426, pt: 320.2, pw: 335.5, ph: 102.1, domain: [-0.806, 0.085], yTicks: antiRscYTicks, yLabels: antiRscYLabels,
    series: [
      { color: C.cyan, values: antiRscCyan },
      { color: C.yellow, values: antiRscYellow, open: [[-650, -225]] },
      { color: C.red, values: antiRscRed, open: [[-200, 400]] },
      { color: C.blue, values: antiRscBlue, filled: [[25, 800]] },
      { color: C.darkGreen, values: antiRscDarkGreen, filled: [[450, 650]] },
      { color: C.orange, values: antiRscOrange, filled: [[0, 0], [200, 200], [450, 550]] },
      { color: C.lightGreen, values: antiRscLightGreen, filled: [[525, 600]] },
    ] },
];

const YAXIS_W = 40;
const XAXIS_H = 30;
const TOP_PAD = 12;

const inSegs = (x: number, segs?: Seg[]) => !!segs && segs.some(([a, b]) => x >= a && x <= b);

const XTick = (props: any) => {
  const { x, y, payload } = props;
  const i = xTicks.indexOf(payload.value);
  return (
    <text x={x} y={y + 11.3} textAnchor="middle" fontSize={10} fontFamily={FONT} fill="#222">
      {i >= 0 ? xTickLabels[i] : ''}
    </text>
  );
};

const makeYTick = (ticks: number[], labels: string[]) => (props: any) => {
  const { x, y, payload } = props;
  const i = ticks.findIndex((t) => Math.abs(t - payload.value) < 1e-9);
  const lbl = i >= 0 ? labels[i] : '';
  if (!lbl) return <g />;
  const bx = x - 1;
  return (
    <text transform={`rotate(-90 ${bx} ${y})`} x={bx} y={y} textAnchor="middle" fontSize={10} fontFamily={FONT} fill="#222">
      {lbl}
    </text>
  );
};

const dotShape = (p: any) => <circle cx={p.cx} cy={p.cy} r={0.95} fill={p.payload?.c ?? p.c} fillOpacity={0.85} />;
const filledShape = (p: any) => <circle cx={p.cx} cy={p.cy} r={2.1} fill={p.payload?.c ?? p.c} />;
const openShape = (p: any) => (
  <circle cx={p.cx} cy={p.cy} r={2.1} fill="none" stroke={p.payload?.c ?? p.c} strokeWidth={0.75} />
);

function Panel({ cfg }: { cfg: PanelDef }) {
  const dots: any[] = [];
  const filled: any[] = [];
  const open: any[] = [];
  cfg.series.forEach((s) => {
    s.values.forEach((v, i) => {
      const x = positions[i];
      const pt = { x, y: v, c: s.color };
      if (inSegs(x, s.filled)) filled.push(pt);
      else if (inSegs(x, s.open)) open.push(pt);
      else dots.push(pt);
    });
  });
  const lo = cfg.domain[0];
  const tMin = Math.min(...cfg.yTicks);
  const tMax = Math.max(...cfg.yTicks);
  return (
    <div style={{ position: 'absolute', left: cfg.pl - YAXIS_W, top: cfg.pt - TOP_PAD }}>
      <ScatterChart width={cfg.pw + YAXIS_W} height={cfg.ph + XAXIS_H + TOP_PAD} margin={{ top: TOP_PAD, right: 0, bottom: 0, left: 0 }}>
        <XAxis type="number" dataKey="x" domain={[-864, 864]} ticks={xTicks} interval={0} allowDataOverflow
          tickSize={4} tickMargin={0} axisLine={false} tickLine={{ stroke: '#555' }} height={XAXIS_H}
          tick={(p: any) => <XTick {...p} />} />
        <YAxis type="number" dataKey="y" domain={cfg.domain} ticks={cfg.yTicks} interval={0} allowDataOverflow
          tickSize={4} tickMargin={0} axisLine={false} tickLine={{ stroke: '#555' }} width={YAXIS_W}
          tick={makeYTick(cfg.yTicks, cfg.yLabels)} />
        <ReferenceLine segment={[{ x: -800, y: lo }, { x: 800, y: lo }]} stroke="#555" strokeWidth={1} ifOverflow="visible" />
        <ReferenceLine segment={[{ x: -864, y: tMin }, { x: -864, y: tMax }]} stroke="#555" strokeWidth={1} ifOverflow="visible" />
        <Scatter data={dots} shape={dotShape} isAnimationActive={false} />
        <Scatter data={open} shape={openShape} isAnimationActive={false} />
        <Scatter data={filled} shape={filledShape} isAnimationActive={false} />
      </ScatterChart>
    </div>
  );
}

const titleStyle = (cx: number, cy: number): React.CSSProperties => ({
  position: 'absolute', left: cx, top: cy, transform: 'translate(-50%, -50%)',
  whiteSpace: 'pre', fontSize: 11, fontFamily: FONT, color: '#111', lineHeight: '13px',
});
const sub: React.CSSProperties = { fontSize: 8, position: 'relative', top: 3 };

function Title({ cx, cy, main, subText, gene }: { cx: number; cy: number; main: string; subText?: string; gene: string }) {
  return (
    <div style={titleStyle(cx, cy)}>
      {'\u0394 ' + main}
      {subText ? <span style={sub}>{subText}</span> : null}
      {'  \u2013 '}
      <i>{gene}</i>
    </div>
  );
}

function YLabel({ cx, cy }: { cx: number; cy: number }) {
  return (
    <div style={{
      position: 'absolute', left: cx, top: cy, transform: 'translate(-50%, -50%) rotate(-90deg)',
      whiteSpace: 'pre', fontSize: 14, fontFamily: FONT, color: '#111', lineHeight: '16px',
    }}>
      log<span style={{ fontSize: 10, position: 'relative', top: 4 }}>2</span>{'  ratio'}
    </div>
  );
}

export default function App() {
  return (
    <div style={{ position: 'absolute', left: 0, top: 0, width: 765, height: 462, background: '#fff', overflow: 'hidden' }}>
      {panels.map((p, i) => <Panel key={i} cfg={p} />)}
      <Title cx={205} cy={10} main="Nucl. Occ." gene="mcm1" />
      <Title cx={594} cy={10} main="Nucl. Occ." gene="rsc3-1" />
      <Title cx={205} cy={162} main="RNA" subText="sense" gene="mcm1" />
      <Title cx={594} cy={162} main="RNA" subText="sense" gene="rsc3-1" />
      <Title cx={205} cy={317} main="RNA" subText="antisense" gene="mcm1" />
      <Title cx={594} cy={317} main="RNA" subText="antisense" gene="rsc3-1" />
      <YLabel cx={13} cy={66} />
      <YLabel cx={400} cy={66} />
      <YLabel cx={13} cy={216} />
      <YLabel cx={400} cy={216} />
      <YLabel cx={13} cy={372} />
      <YLabel cx={400} cy={372} />
      <div style={{ position: 'absolute', left: 198, top: 450, transform: 'translate(-50%, -50%)', fontFamily: "'Liberation Serif', 'Times New Roman', serif", fontSize: 13, color: '#222' }}>A</div>
      <div style={{ position: 'absolute', left: 577, top: 450, transform: 'translate(-50%, -50%)', fontFamily: "'Liberation Serif', 'Times New Roman', serif", fontSize: 13, color: '#222' }}>B</div>
    </div>
  );
}
